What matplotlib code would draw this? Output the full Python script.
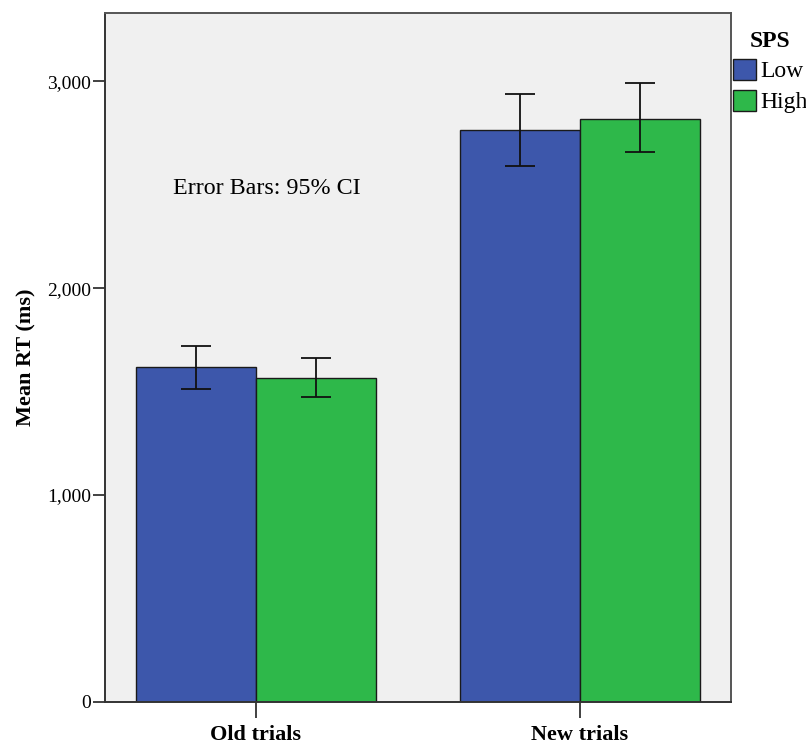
import matplotlib
matplotlib.use("Agg")
import matplotlib.pyplot as plt
import matplotlib.ticker as ticker
import numpy as np

categories = ["Old trials", "New trials"]
groups = ["Low", "High"]
means_low = [1617, 2766]
means_high = [1568, 2820]
ci_low_lo = [1512, 2589]
ci_low_hi = [1720, 2939]
ci_high_lo = [1475, 2656]
ci_high_hi = [1662, 2990]

colors = ["#3D57AB", "#2EB84A"]

plt.rcParams["font.family"] = ["Liberation Serif", "DejaVu Serif"]

fig = plt.figure(figsize=(8.06, 7.47), dpi=100)
ax = fig.add_axes([105 / 806, 45 / 747, 626 / 806, 689 / 747])
ax.set_facecolor("#F0F0F0")

x = np.arange(len(categories))
w = 0.37
means = [means_low, means_high]
lo = [ci_low_lo, ci_high_lo]
hi = [ci_low_hi, ci_high_hi]
handles = []
for i in range(2):
    pos = x + (i - 0.5) * w
    m = np.array(means[i])
    yerr = [m - np.array(lo[i]), np.array(hi[i]) - m]
    b = ax.bar(pos, m, width=w, color=colors[i], edgecolor="#1a1a1a",
               linewidth=1.0, zorder=2)
    handles.append(b)
    ax.errorbar(pos, m, yerr=yerr, fmt="none", ecolor="#111111",
                elinewidth=1.3, capsize=10.5, capthick=1.3, zorder=3)

ax.set_xlim(-0.466, 1.466)
ax.set_ylim(0, 3330)
ax.set_xticks(x)
ax.set_xticklabels(categories, fontsize=16, fontweight="bold")
ax.yaxis.set_major_locator(ticker.MultipleLocator(1000))
ax.yaxis.set_major_formatter(ticker.StrMethodFormatter("{x:,.0f}"))
ax.tick_params(axis="y", labelsize=14, length=9, width=1.3, color="#333333", pad=1)
ax.tick_params(axis="x", length=11.5, width=1.3, color="#333333", pad=5)
ax.set_ylabel("Mean RT (ms)", fontsize=16, fontweight="bold", labelpad=8)

for sp in ax.spines.values():
    sp.set_color("#555555")
    sp.set_linewidth(1.4)
ax.spines["left"].set_color("#333333")
ax.spines["bottom"].set_color("#333333")

ax.text(0.108, 0.745, "Error Bars: 95% CI", transform=ax.transAxes,
        fontsize=17.3, ha="left", va="center")

leg = fig.legend(handles, groups, loc="upper left",
                 bbox_to_anchor=(728 / 806, 1 - 26 / 747), frameon=False,
                 title="SPS", fontsize=17, handlelength=1.0, handleheight=1.0,
                 handletextpad=0.15, labelspacing=0.3, borderaxespad=0,
                 borderpad=0.2)
leg.get_title().set_fontweight("bold")
leg.get_title().set_fontsize(17)

fig.savefig("out.png", dpi=100)
